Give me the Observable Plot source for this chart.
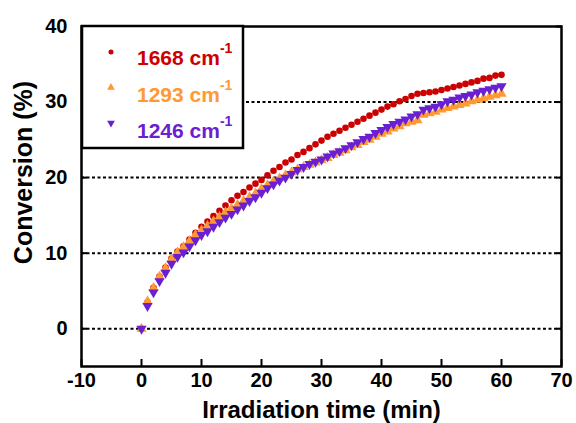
<!DOCTYPE html>
<html>
<head>
<meta charset="utf-8">
<script src="https://cdn.jsdelivr.net/npm/d3@7"></script>
<script src="https://cdn.jsdelivr.net/npm/@observablehq/plot@0.6"></script>
<style>
  body { margin: 0; background: #fff; }
  #chart { position: relative; width: 576px; height: 423px; }
</style>
</head>
<body>
<div id="chart"></div>
<script>
// ---- data ----
const time = [0,1,2,3,4,5,6,7,8,9,10,11,12,13,14,15,16,17,18,19,20,21,22,23,24,25,26,27,28,29,30,
  31,32,33,34,35,36,37,38,39,40,41,42,43,44,45,46,47,48,49,50,51,52,53,54,55,56,57,58,59,60];

const conv1668 = [0,3.5,5.4,6.9,8.1,9.3,10.2,10.9,11.8,12.7,13.5,14.2,14.9,15.6,16.3,17.0,17.6,18.1,18.7,19.2,19.7,
  20.3,20.9,21.4,22.0,22.4,23.0,23.4,23.9,24.4,24.9,25.4,25.8,26.2,26.6,27.0,27.4,27.8,28.2,28.6,29.0,
  29.4,29.7,30.1,30.4,30.8,31.1,31.2,31.3,31.4,31.6,31.8,32.0,32.2,32.4,32.6,32.8,33.1,33.2,33.5,33.6];

const conv1293 = [0,3.6,5.4,6.9,8.0,9.2,10.1,10.8,11.6,12.4,13.0,13.6,14.2,14.8,15.4,15.9,16.4,16.9,17.4,17.9,18.5,
  19.0,19.5,19.9,20.3,20.7,21.1,21.4,21.7,22.0,22.3,22.6,23.0,23.3,23.6,24.0,24.3,24.7,25.0,25.4,25.8,
  26.1,26.5,26.8,27.2,27.4,27.6,28.3,28.5,28.7,29.0,29.2,29.4,29.6,29.8,30.1,30.3,30.5,30.7,30.9,31.1];

const conv1246 = [0,3.0,4.8,6.3,7.4,8.6,9.5,10.1,10.9,11.7,12.4,12.9,13.5,14.1,14.7,15.2,15.8,16.3,16.9,17.4,18.0,
  18.6,19.1,19.6,20.0,20.5,21.0,21.4,21.8,22.1,22.4,22.8,23.2,23.5,23.9,24.3,24.7,25.1,25.4,25.9,26.3,
  26.7,27.1,27.4,27.7,28.1,28.4,29.0,29.2,29.4,29.7,30.1,30.3,30.6,30.8,31.0,31.3,31.5,31.7,31.9,32.1];

const seriesNames = ["1668", "1293", "1246"];
const seriesColors = ["#CC0000", "#FF9933", "#6A1FD1"];
const xTicks = [-10, 0, 10, 20, 30, 40, 50, 60, 70];
const yTicks = [0, 10, 20, 30, 40];
const gridValues = [0, 10, 20, 30];
const xTitle = "Irradiation time (min)";
const yTitle = "Conversion (%)";

// ---- build table ----
const allSeries = [conv1668, conv1293, conv1246];
const rows = [];
allSeries.forEach((vals, i) => vals.forEach((v, j) => rows.push({t: time[j], v, s: seriesNames[i]})));

const triangleDown = {
  draw(context, size) {
    const y = Math.sqrt(size / (Math.sqrt(3) * 3));
    context.moveTo(0, y * 2);
    context.lineTo(-Math.sqrt(3) * y, -y);
    context.lineTo(Math.sqrt(3) * y, -y);
    context.closePath();
  }
};
const symbols = ["circle", "triangle", triangleDown];
const radii = [3.3, 3.8, 3.8];

const font = "'Liberation Sans', Arial, Helvetica, sans-serif";

const plot = Plot.plot({
  width: 576,
  height: 423,
  marginLeft: 81,
  marginRight: 15,
  marginTop: 26,
  marginBottom: 57,
  style: {fontFamily: font, fontSize: "20px", fontWeight: "bold", background: "#fff", color: "#000", overflow: "visible"},
  x: {domain: [-10, 70]},
  y: {domain: [-5, 40]},
  marks: [
    Plot.ruleY(gridValues, {stroke: "#000", strokeWidth: 2, strokeDasharray: "3,2.5"}),
    ...seriesNames.map((name, i) =>
      Plot.dot(rows.filter(d => d.s === name), {
        x: "t", y: "v", r: radii[i], symbol: () => symbols[i],
        fill: seriesColors[i], stroke: "none"
      })
    ),
    Plot.frame({stroke: "#000", strokeWidth: 2.5}),
    Plot.axisX({ticks: xTicks, tickSize: -7, tickPadding: 13, strokeWidth: 2, label: null, fontSize: 20, tickFormat: d => String(d)}),
    Plot.axisY({ticks: yTicks, tickSize: -6, tickPadding: 20, strokeWidth: 2, label: null, fontSize: 20, tickFormat: d => String(d)}),
    Plot.axisY({anchor: "right", ticks: yTicks, tickSize: -6, strokeWidth: 2, label: null, tickFormat: () => ""}),
    Plot.text([xTitle], {frameAnchor: "bottom", dy: 44, textAnchor: "middle", lineAnchor: "middle", fontSize: 24, fontWeight: "bold", text: d => d}),
    Plot.text([yTitle], {frameAnchor: "left", dx: -58, dy: -24, rotate: -90, textAnchor: "middle", lineAnchor: "middle", fontSize: 25, fontWeight: "bold", text: d => d})
  ]
});

document.getElementById("chart").appendChild(plot);

// ---- legend (drawn into the same SVG) ----
const svg = d3.select(plot);
const lg = svg.append("g").attr("font-family", font).attr("font-weight", "bold").attr("text-anchor", "start");
lg.append("rect").attr("x", 82).attr("y", 26).attr("width", 161).attr("height", 122)
  .attr("fill", "#fff").attr("stroke", "#000").attr("stroke-width", 2.5);
const legendSymbols = [d3.symbolCircle, d3.symbolTriangle, triangleDown];
const legendSizes = [20, 26, 26];
seriesNames.forEach((name, i) => {
  const cy = 52 + i * 35.5;
  lg.append("path")
    .attr("d", d3.symbol(legendSymbols[i], legendSizes[i])())
    .attr("transform", `translate(111,${cy})`)
    .attr("fill", seriesColors[i]);
  const t = lg.append("text").attr("x", 137).attr("y", 65 + i * 36.5)
    .attr("text-anchor", "start")
    .attr("fill", seriesColors[i]).attr("font-size", 21);
  t.append("tspan").text(name + " cm");
  t.append("tspan").attr("dy", -12).attr("font-size", 14).text("-1");
});
</script>
</body>
</html>
